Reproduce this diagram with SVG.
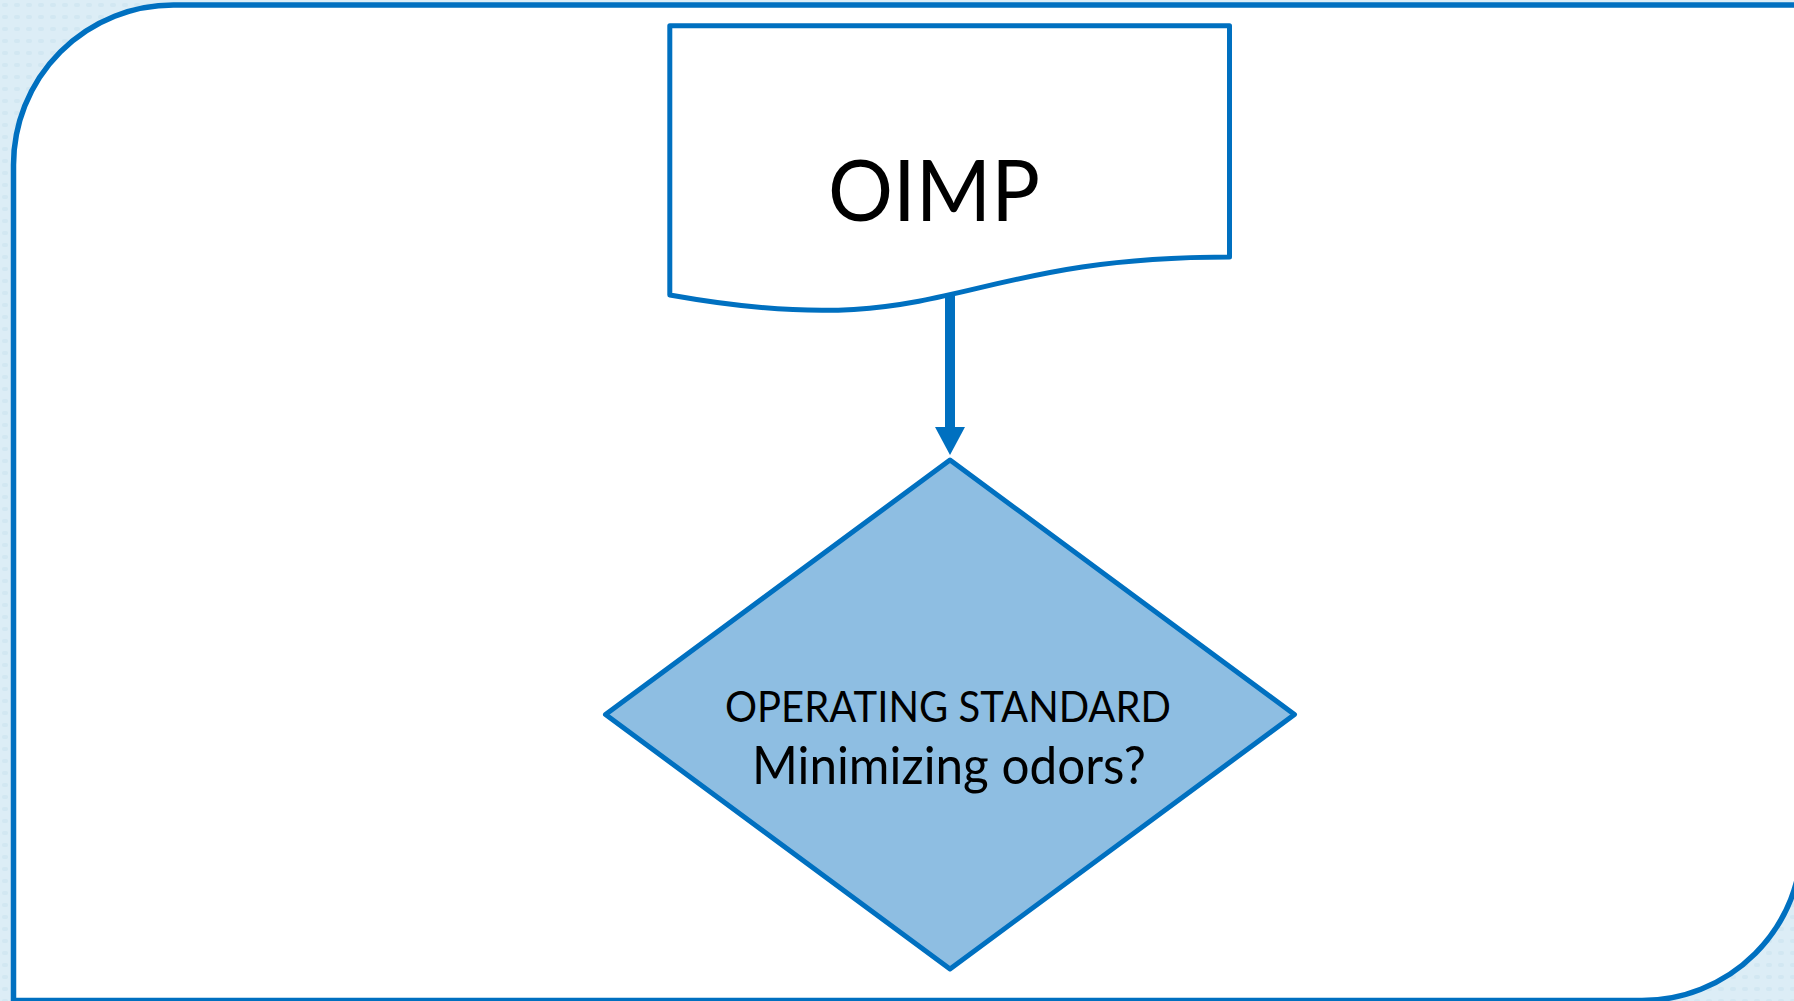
<svg xmlns="http://www.w3.org/2000/svg" width="1794" height="1001" viewBox="0 0 1794 1001">
  <defs>
    <pattern id="bgpat" x="0" y="0" width="12" height="12" patternUnits="userSpaceOnUse">
      <rect width="12" height="12" fill="#dcedf6"/>
      <rect x="2" y="3" width="6" height="4" rx="2" fill="#d2e7f2"/>
    </pattern>
    <marker id="arrow" viewBox="0 0 28 30" refX="0" refY="15" markerWidth="28" markerHeight="30" markerUnits="userSpaceOnUse" orient="auto">
      <path d="M0,0 L28,15 L0,30 Z" fill="#0070c0"/>
    </marker>
    <style>
      .shape { stroke: #0070c0; stroke-width: 5; stroke-linejoin: round; }
      .label { font-family: Lato, "Open Sans", "Liberation Sans", sans-serif; fill: #000000; text-anchor: middle; }
    </style>
  </defs>

  <rect x="0" y="0" width="1794" height="1001" fill="url(#bgpat)"/>
  <path id="frame" d="M13.5,1003 V165 A160,160 0 0 1 173.5,5 H1802 V840.5 A160,160 0 0 1 1642,1000.5 H13.5" fill="#ffffff" stroke="#0070c0" stroke-width="5.5"/>

  <g id="connectors">
    <path d="M950,292 V427" stroke="#0070c0" stroke-width="10" fill="none" marker-end="url(#arrow)"/>
  </g>

  <g id="node-oimp">
    <path class="shape" fill="#ffffff" d="M669.8,25.8 H1229.5 V257 C949.65,257 949.65,345.1 669.8,295 Z"/>
    <text class="label" x="934" y="221" font-size="85" textLength="212" lengthAdjust="spacingAndGlyphs">OIMP</text>
  </g>

  <g id="node-decision">
    <path class="shape" fill="#8ebee2" d="M950,460 L1294.5,714.5 L950,969 L605.5,714.5 Z"/>
    <text class="label" x="948" y="722" font-size="43" textLength="446" lengthAdjust="spacingAndGlyphs">OPERATING STANDARD</text>
    <text class="label" x="949" y="784" font-size="52" textLength="394" lengthAdjust="spacingAndGlyphs">Minimizing odors?</text>
  </g>
</svg>
